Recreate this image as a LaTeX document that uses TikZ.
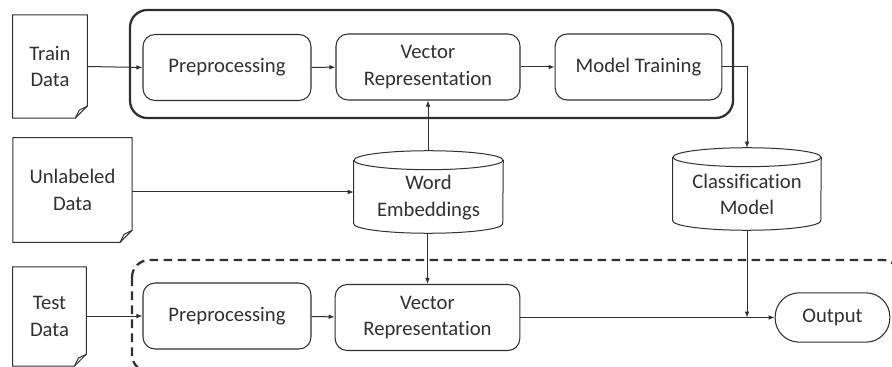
\documentclass[tikz,border=0pt]{standalone}
\usepackage{fontspec}
\setmainfont{Carlito}[Ligatures={NoCommon}]
\usetikzlibrary{arrows.meta}
\definecolor{ink}{HTML}{303030}
\begin{document}
\begin{tikzpicture}[x=0.75pt,y=-0.75pt,
  every node/.style={font=\fontsize{15.5}{20}\selectfont, text=ink, align=center, inner sep=0pt},
  proc/.style={draw=ink, line width=0.8pt, rounded corners=9pt, minimum height=49.5pt},
  conn/.style={draw=ink, line width=0.75pt, -{Latex[length=4.5pt,width=3.5pt]}},
  docline/.style={draw=ink, line width=0.75pt},
  cylline/.style={draw=ink, line width=0.75pt},
]
\useasboundingbox (0,0) rectangle (892,367);
% outer containers
\draw[ink, line width=1.7pt, rounded corners=13pt] (130,10) rectangle (733,118);
\draw[ink, line width=1.7pt, rounded corners=13pt, dash pattern=on 6.5pt off 4pt] (132,260) rectangle (900,372);

% documents
\newcommand{\docshape}[1]{%
  \path[docline] (#1.north west) -- (#1.north east) -- ([yshift=9pt]#1.south east)
    -- ([xshift=-9pt]#1.south east) -- (#1.south west) -- cycle;
  \path[docline] ([yshift=9pt]#1.south east) -- ([xshift=-6pt,yshift=6pt]#1.south east) -- ([xshift=-9pt]#1.south east);
}
\node[minimum width=55.5pt, minimum height=77pt] (train) at (50,66.5) {Train\\Data};
\node[minimum width=89pt, minimum height=78pt] (unl) at (72.5,190) {Unlabeled\\Data};
\node[minimum width=55pt, minimum height=74pt] (test) at (49.5,316.5) {Test\\Data};
\docshape{train}
\docshape{unl}
\docshape{test}

% process boxes
\node[proc, minimum width=126pt] (pre1) at (227,67.5) {Preprocessing};
\node[proc, minimum width=138pt] (vec1) at (428,67) {Vector\\Representation};
\node[proc, minimum width=125pt] (mod) at (638.5,67) {Model Training};
\node[proc, minimum width=126pt] (pre2) at (227,316) {Preprocessing};
\node[proc, minimum width=138.5pt] (vec2) at (427.5,317.5) {Vector\\Representation};
\node[draw=ink, line width=0.8pt, rounded corners=18pt, minimum width=86pt, minimum height=37pt] (out) at (832.5,317.5) {Output};

% cylinders
\node[minimum width=111.75pt, minimum height=61.5pt] (we) at (428.5,192) {};
\node[minimum width=111pt, minimum height=61.5pt] (cls) at (747,189) {};
\newcommand{\cyl}[3]{% name, half width (pt), ry (pt)
  \draw[cylline] ([yshift=-#3]#1.north west) -- ([yshift=#3]#1.south west)
     arc(180:360:#2 and #3) -- ([yshift=-#3]#1.north east);
  \draw[cylline] ([yshift=-#3]#1.north) ellipse [x radius=#2, y radius=#3];
}
\cyl{we}{55.875pt}{7.1pt}
\cyl{cls}{55.5pt}{7.1pt}
\node at ([yshift=-4pt]we.center) {Word\\Embeddings};
\node at ([yshift=-4pt]cls.center) {Classification\\Model};

% connectors
\draw[conn] (train.east) -- (pre1.west);
\draw[conn] (pre1) -- (vec1);
\draw[conn] (vec1) -- (mod);
\draw[conn] (mod.east) -| (cls.north);
\draw[conn] (unl.east |- we.west) -- (we.west);
\draw[conn] (we.north -| vec1.south) -- (vec1.south);
\draw[conn] (we.south -| vec2.north) -- (vec2.north);
\draw[conn] (test.east |- pre2.west) -- (pre2.west);
\draw[conn] (pre2) -- (vec2);
\draw[conn] (vec2.east |- out.west) -- (out.west);
\coordinate (join) at (cls.south |- out.west);
\draw[conn] (cls.south) -- (join);
\end{tikzpicture}
\end{document}
